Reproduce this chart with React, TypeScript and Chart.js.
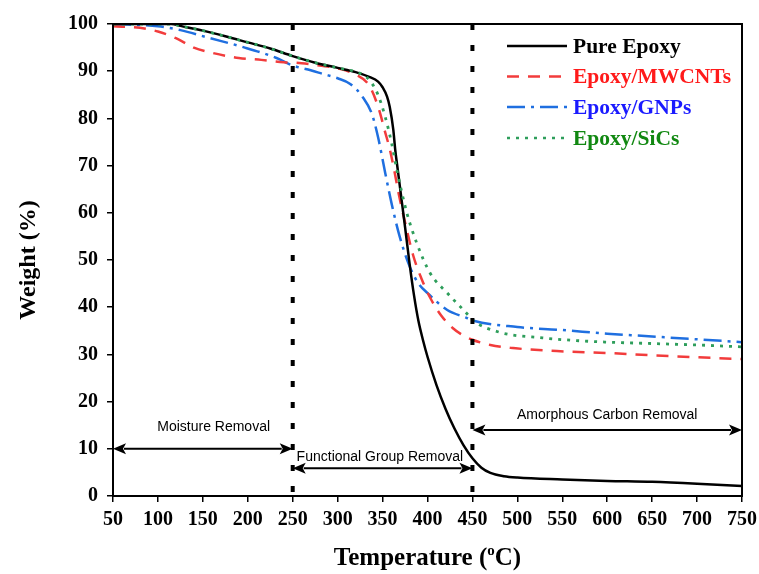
import React, { useEffect, useRef } from 'react';
import { Chart, registerables } from 'chart.js';
Chart.register(...registerables);

// ---- data ----
const seriesNames = ['Pure Epoxy', 'Epoxy/MWCNTs', 'Epoxy/GNPs', 'Epoxy/SiCs'];

const pureTemp = [50, 115, 125, 150, 175, 200, 225, 250, 275, 300, 320, 335, 345, 350, 355, 358, 362, 364, 367, 370, 375, 380, 385, 390, 395, 400, 410, 420, 430, 440, 450, 460, 470, 485, 500, 550, 600, 650, 700, 750];
const pureWeight = [100, 100, 99.6, 98.6, 97.4, 96.1, 94.8, 93.2, 91.8, 90.7, 89.8, 88.8, 87.8, 86.6, 84.6, 82.4, 77.5, 73.5, 69, 64.5, 57, 49.3, 42.5, 37, 33, 29.5, 23.5, 18.5, 14.3, 10.8, 8.0, 6.0, 4.9, 4.2, 3.9, 3.5, 3.2, 3.0, 2.6, 2.1];

const mwcntTemp = [50, 80, 100, 120, 140, 160, 190, 215, 240, 260, 280, 300, 320, 335, 345, 353, 358, 363, 368, 375, 384, 393, 403, 415, 428, 440, 450, 470, 492, 544, 600, 650, 700, 750];
const mwcntWeight = [99.5, 99.2, 98.4, 97, 95.0, 93.9, 92.8, 92.4, 91.9, 91.7, 91.2, 90.6, 89.3, 87, 82.5, 77, 73.5, 69, 64, 58, 51, 46.2, 42, 38.3, 35.6, 34, 33.1, 32, 31.4, 30.7, 30.3, 29.8, 29.4, 29];

const gnpTemp = [50, 100, 125, 158, 195, 232, 250, 270, 284, 300, 314, 328, 338, 345, 353, 360, 369, 380, 390, 400, 422, 444, 450, 500, 547, 600, 650, 700, 750];
const gnpWeight = [100, 99.5, 98.7, 97, 95.1, 92.8, 91.2, 90.2, 89.4, 88.5, 87.3, 84.5, 81, 76, 68.4, 62, 55, 48.7, 45, 43, 39.4, 37.7, 37.2, 35.8, 35.2, 34.4, 33.8, 33.2, 32.6];

const sicTemp = [50, 115, 125, 150, 175, 200, 225, 250, 275, 300, 321, 333, 344, 353, 360, 366, 377, 388, 403, 422, 444, 450, 480, 528, 560, 600, 650, 700, 750];
const sicWeight = [100, 100, 99.6, 98.6, 97.4, 96.1, 94.8, 93.2, 91.8, 90.7, 89.8, 88.6, 85.4, 80.3, 74.8, 69, 60, 53.6, 47.2, 43, 38.6, 37.3, 34.7, 33.5, 33, 32.6, 32.3, 32, 31.6];

const dividerTemps = [250, 450];
const regionLabels = ['Moisture Removal', 'Functional Group Removal', 'Amorphous Carbon Removal'];
const regionStart = [50, 250, 450];
const regionEnd = [250, 450, 750];
const regionArrowWeight = [10, 5.9, 14];
const regionTextTemp = [162, 347, 600];
const regionTextWeight = [14.6, 8.3, 17.2];

// ---- styles ----
const SERIF = "'Liberation Serif', 'Times New Roman', serif";
const SANS = "'Liberation Sans', Arial, sans-serif";
const lineColors = ['#000000', '#f23c3c', '#1f6fe0', '#2e9e5b'];
const textColors = ['#000000', '#ff1a1a', '#1a1aff', '#118811'];
const dashes: number[][] = [[], [12, 9], [18, 6, 3, 6], [3, 6]];

function drawArrow(ctx: CanvasRenderingContext2D, x1: number, x2: number, y: number) {
  const hl = 13, hw = 5.5;
  ctx.beginPath();
  ctx.moveTo(x1 + hl - 2, y);
  ctx.lineTo(x2 - hl + 2, y);
  ctx.stroke();
  ctx.beginPath();
  ctx.moveTo(x1, y);
  ctx.lineTo(x1 + hl, y - hw);
  ctx.lineTo(x1 + hl - 3, y);
  ctx.lineTo(x1 + hl, y + hw);
  ctx.closePath();
  ctx.fill();
  ctx.beginPath();
  ctx.moveTo(x2, y);
  ctx.lineTo(x2 - hl, y - hw);
  ctx.lineTo(x2 - hl + 3, y);
  ctx.lineTo(x2 - hl, y + hw);
  ctx.closePath();
  ctx.fill();
}

const overlay = {
  id: 'overlay',
  afterDraw(chart: any) {
    const { ctx, chartArea: a, scales } = chart;
    const x = scales.x, y = scales.y;
    ctx.save();
    // frame
    ctx.strokeStyle = '#000';
    ctx.lineWidth = 2;
    ctx.strokeRect(a.left, a.top, a.right - a.left, a.bottom - a.top);
    // dividers
    ctx.setLineDash([6, 15]);
    ctx.lineWidth = 4;
    dividerTemps.forEach((t) => {
      const px = x.getPixelForValue(t);
      ctx.beginPath();
      ctx.moveTo(px, a.top);
      ctx.lineTo(px, a.bottom);
      ctx.stroke();
    });
    ctx.setLineDash([]);
    // arrows + labels
    ctx.lineWidth = 2;
    ctx.fillStyle = '#000';
    regionLabels.forEach((lab, i) => {
      const yy = y.getPixelForValue(regionArrowWeight[i]);
      drawArrow(ctx, x.getPixelForValue(regionStart[i]), x.getPixelForValue(regionEnd[i]), yy);
      ctx.font = `14px ${SANS}`;
      ctx.textAlign = 'center';
      ctx.textBaseline = 'middle';
      ctx.fillText(lab, x.getPixelForValue(regionTextTemp[i]), y.getPixelForValue(regionTextWeight[i]));
    });
    // legend
    const rowsY = [46, 76.5, 107, 138];
    seriesNames.forEach((name, i) => {
      ctx.strokeStyle = lineColors[i];
      ctx.lineWidth = 2.5;
      ctx.setLineDash(dashes[i]);
      ctx.beginPath();
      ctx.moveTo(507, rowsY[i]);
      ctx.lineTo(567, rowsY[i]);
      ctx.stroke();
      ctx.setLineDash([]);
      ctx.fillStyle = textColors[i];
      ctx.font = `bold 21.5px ${SERIF}`;
      ctx.textAlign = 'left';
      ctx.textBaseline = 'middle';
      ctx.fillText(name, 573, rowsY[i] + 1);
    });
    // x title with superscript
    ctx.fillStyle = '#000';
    ctx.textBaseline = 'alphabetic';
    ctx.textAlign = 'left';
    const big = `bold 25px ${SERIF}`, small = `bold 15px ${SERIF}`;
    const p1 = 'Temperature (', p2 = 'o', p3 = 'C)';
    ctx.font = big; const w1 = ctx.measureText(p1).width; const w3 = ctx.measureText(p3).width;
    ctx.font = small; const w2 = ctx.measureText(p2).width;
    const total = w1 + w2 + w3;
    const cx = (a.left + a.right) / 2;
    let sx = cx - total / 2;
    const base = 565;
    ctx.font = big; ctx.fillText(p1, sx, base); sx += w1;
    ctx.font = small; ctx.fillText(p2, sx, base - 10); sx += w2;
    ctx.font = big; ctx.fillText(p3, sx, base);
    ctx.restore();
  },
};

export default function App() {
  const ref = useRef<HTMLCanvasElement | null>(null);
  useEffect(() => {
    if (!ref.current) return;
    const mk = (t: number[], w: number[]) => t.map((v, i) => ({ x: v, y: w[i] }));
    const sets = [mk(pureTemp, pureWeight), mk(mwcntTemp, mwcntWeight), mk(gnpTemp, gnpWeight), mk(sicTemp, sicWeight)];
    const orders = [1, 2, 3, 0];
    const chart = new Chart(ref.current, {
      type: 'line',
      data: {
        datasets: sets.map((d, i) => ({
          label: seriesNames[i],
          data: d,
          borderColor: lineColors[i],
          borderWidth: i === 3 ? 2.8 : 2.5,
          borderDash: dashes[i],
          pointRadius: 0,
          fill: false,
          cubicInterpolationMode: 'monotone' as const,
          order: orders[i],
        })),
      },
      plugins: [overlay],
      options: {
        animation: false,
        responsive: true,
        maintainAspectRatio: false,
        layout: { padding: { top: 24, right: 17, left: 0, bottom: 0 } },
        plugins: { legend: { display: false }, tooltip: { enabled: false } },
        scales: {
          x: {
            type: 'linear',
            min: 50,
            max: 750,
            afterFit: (s: any) => { s.height = 78; s.paddingRight = 0; s.paddingLeft = 0; },
            ticks: { stepSize: 50, color: '#000', padding: 6, maxRotation: 0, autoSkip: false, font: { family: SERIF, size: 20, weight: 'bold' } },
            grid: { display: true, drawOnChartArea: false, drawTicks: true, tickLength: 6, color: '#000', lineWidth: 1.5 },
            border: { display: true, color: '#000', width: 2 },
            title: { display: false },
          },
          y: {
            min: 0,
            max: 100,
            afterFit: (s: any) => { s.width = 113; s.paddingTop = 0; s.paddingBottom = 0; },
            ticks: { stepSize: 10, color: '#000', padding: 9, font: { family: SERIF, size: 20, weight: 'bold' } },
            grid: { display: true, drawOnChartArea: false, drawTicks: true, tickLength: 6, color: '#000', lineWidth: 1.5 },
            border: { display: true, color: '#000', width: 2 },
            title: { display: true, text: 'Weight (%)', color: '#000', padding: { top: 14, bottom: 0 }, font: { family: SERIF, size: 24, weight: 'bold' } },
          },
        },
      } as any,
    });
    return () => chart.destroy();
  }, []);
  return (
    <div style={{ position: 'fixed', left: 0, top: 0, width: 759, height: 574, background: '#fff' }}>
      <canvas ref={ref} />
    </div>
  );
}
